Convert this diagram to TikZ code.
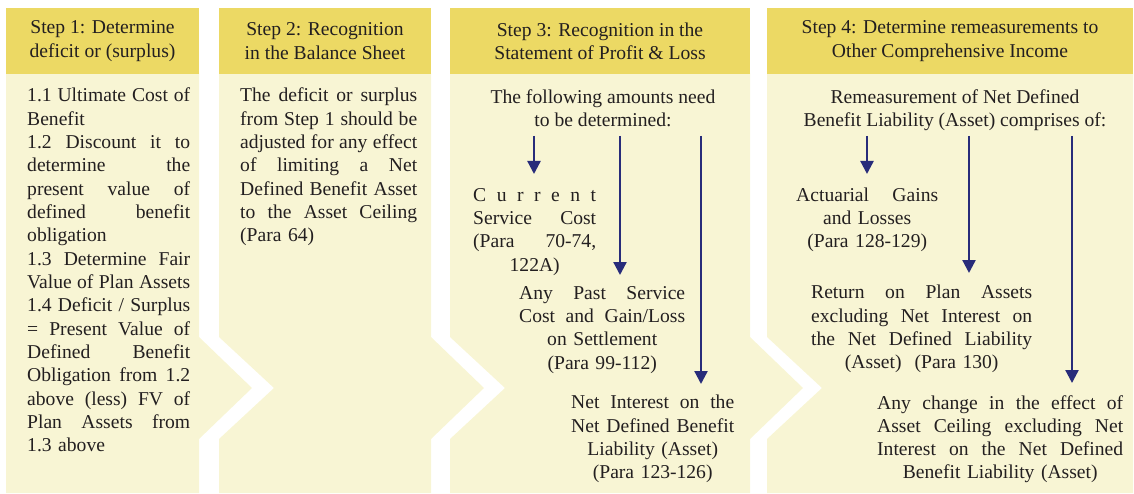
\documentclass[tikz,border=0pt]{standalone}
\usepackage{fontspec}
\setmainfont{Liberation Serif}
\usetikzlibrary{arrows.meta, positioning}
\definecolor{StepGold}{RGB}{236, 217, 100}
\definecolor{StepCream}{RGB}{248, 245, 212}
\definecolor{FlowNavy}{RGB}{40, 44, 122}
\definecolor{InkGrey}{RGB}{35, 31, 32}
\newcommand{\stepfont}{\fontsize{19.6}{23.33}\selectfont}
\newcommand{\fillline}[1]{\makebox[\hsize][s]{\spaceskip=0pt\xspaceskip=0pt #1}}
\setlength{\parindent}{0pt}

\begin{document}
\begin{tikzpicture}[x=1pt, y=-1pt, >={Triangle[length=13pt, width=13pt]},
    stephead/.style={fill=StepGold, minimum height=66pt, inner sep=0pt, align=center, font=\stepfont, text=InkGrey},
    steptext/.style={inner sep=0pt, font=\stepfont, text=InkGrey},
    flow/.style={->, line width=2.3pt, FlowNavy}]
      \useasboundingbox (0,0) rectangle (1134,494);

      % Panels
      \fill[StepCream] (6,73) -- (199,73) -- (199,337) -- (252,388) -- (199,439) -- (199,493) -- (6,493) -- cycle;
      \fill[StepCream] (219,73) -- (431,73) -- (431,337) -- (484,388) -- (431,439) -- (431,493) -- (219,493)
        -- (219,439) -- (274,388) -- (219,337) -- cycle;
      \fill[StepCream] (450,73) -- (750,73) -- (750,337) -- (803,388) -- (750,439) -- (750,493) -- (450,493)
        -- (450,439) -- (505,388) -- (450,337) -- cycle;
      \fill[StepCream] (767,73) -- (1133,73) -- (1133,493) -- (767,493) -- (767,439) -- (822,388) -- (767,337) -- cycle;

      % Nodes
      \node[stephead, minimum width=193pt] (head1) at (102.5,41) {Step 1: Determine\\deficit or (surplus)};
      \node[stephead, minimum width=212pt] (head2) at (325,41) {Step 2: Recognition\\in the Balance Sheet};
      \node[stephead, minimum width=300pt] (head3) at (600,41) {Step 3: Recognition in the\\Statement of Profit \& Loss};
      \node[stephead, minimum width=366pt] (head4) at (950,41) {Step 4: Determine remeasurements to\\Other Comprehensive Income};

      \node[steptext, text width=163pt, align=left, anchor=north west] (deficit) at (27,88) {
        \fillline{1.1 Ultimate Cost of}\\
        Benefit\\
        \fillline{1.2 Discount it to}\\
        \fillline{determine the}\\
        \fillline{present value of}\\
        \fillline{defined benefit}\\
        obligation\\
        \fillline{1.3 Determine Fair}\\
        \fillline{Value of Plan Assets}\\
        \fillline{1.4 Deficit / Surplus}\\
        \fillline{= Present Value of}\\
        \fillline{Defined Benefit}\\
        \fillline{Obligation from 1.2}\\
        \fillline{above (less) FV of}\\
        \fillline{Plan Assets from}\\
        1.3 above
      };

      \node[steptext, text width=177pt, align=left, anchor=north west] (ceiling) at (240,88) {
        \fillline{The deficit or surplus}\\
        \fillline{from Step 1 should be}\\
        \fillline{adjusted for any effect}\\
        \fillline{of limiting a Net}\\
        \fillline{Defined Benefit Asset}\\
        \fillline{to the Asset Ceiling}\\
        (Para 64)
      };

      \node[steptext, align=center, below=15pt of head3, xshift=3pt] (amounts) {The following amounts need\\to be determined:};
      \node[steptext, align=center, below=15pt of head4, xshift=5pt] (remeas) {Remeasurement of Net Defined\\Benefit Liability (Asset) comprises of:};

      \node[steptext, text width=123pt, align=center, anchor=north west] (service) at (473,188) {
        \fillline{C u r r e n t}\\
        \fillline{Service Cost}\\
        \fillline{(Para 70-74,}\\
        122A)
      };
      \node[steptext, text width=166pt, align=center, anchor=north west] (past) at (519,286) {
        \fillline{Any Past Service}\\
        \fillline{Cost and Gain/Loss}\\
        on Settlement\\
        (Para 99-112)
      };
      \node[steptext, text width=163pt, align=center, anchor=north west] (netint) at (571,395) {
        \fillline{Net Interest on the}\\
        \fillline{Net Defined Benefit}\\
        Liability (Asset)\\
        (Para 123-126)
      };

      \node[steptext, text width=142pt, align=center, anchor=north west] (actuarial) at (796,187.5) {
        \fillline{Actuarial Gains}\\
        and Losses\\
        (Para 128-129)
      };
      \node[steptext, text width=221pt, align=center, anchor=north west] (return) at (811,285) {
        \fillline{Return on Plan Assets}\\
        \fillline{excluding Net Interest on}\\
        \fillline{the Net Defined Liability}\\
        (Asset)\ \ (Para 130)
      };
      \node[steptext, text width=246pt, align=center, anchor=north west] (effect) at (877,395) {
        \fillline{Any change in the effect of}\\
        \fillline{Asset Ceiling excluding Net}\\
        \fillline{Interest on the Net Defined}\\
        Benefit Liability (Asset)
      };

      \coordinate (s3a) at (534,136);
      \coordinate (s3b) at (620,136);
      \coordinate (s3c) at (701,136);
      \coordinate (s4a) at (867,136);
      \coordinate (s4b) at (969,136);
      \coordinate (s4c) at (1072,136);

      % Arrows
      \draw[flow, shorten >=14pt] (s3a) -- (s3a |- service.north);
      \draw[flow, shorten >=11pt] (s3b) -- (s3b |- past.north);
      \draw[flow, shorten >=11pt] (s3c) -- (s3c |- netint.north);
      \draw[flow, shorten >=13.5pt] (s4a) -- (s4a |- actuarial.north);
      \draw[flow, shorten >=12pt] (s4b) -- (s4b |- return.north);
      \draw[flow, shorten >=12pt] (s4c) -- (s4c |- effect.north);
\end{tikzpicture}
\end{document}
